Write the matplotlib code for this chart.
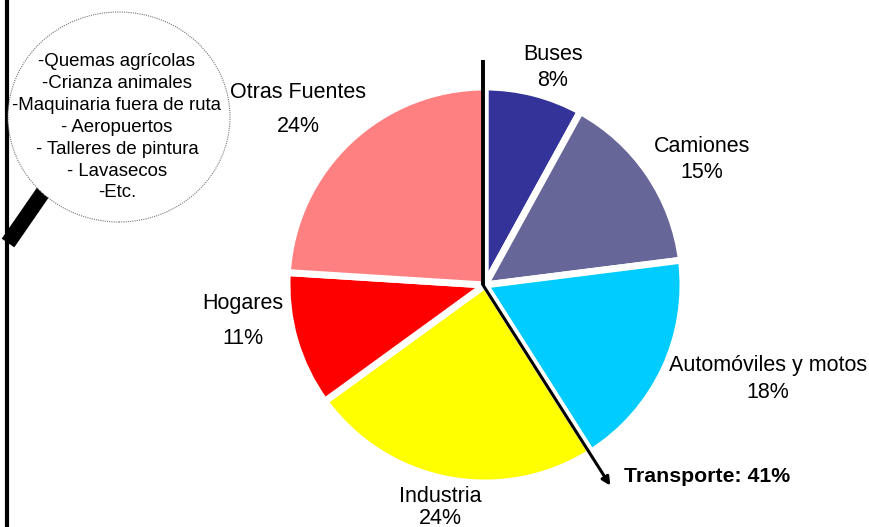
import numpy as np
import matplotlib.pyplot as plt
from matplotlib.patches import Ellipse

plt.rcParams['font.family'] = ['Liberation Sans', 'DejaVu Sans']

# data
categories = ['Buses', 'Camiones', 'Automóviles y motos', 'Industria', 'Hogares', 'Otras Fuentes']
shares = [8, 15, 18, 24, 11, 24]
colors = ['#333399', '#666699', '#00CCFF', '#FFFF00', '#FF0000', '#FF8080']
transport_label = 'Transporte: 41%'
otras_items = ['-Quemas agrícolas', '-Crianza animales', '-Maquinaria fuera de ruta',
               '- Aeropuertos', '- Talleres de pintura', '- Lavasecos', '-Etc.']

W, H = 870, 527
fig = plt.figure(figsize=(8.7, 5.27), dpi=100)
ax = fig.add_axes([0, 0, 1, 1])

def py(y):  # pixel row -> data y
    return H - y

cx, cy, r = 485, py(285), 198
ax.pie(shares, colors=colors, startangle=90, counterclock=False,
       center=(cx, cy), radius=r, frame=True,
       wedgeprops=dict(edgecolor='white', linewidth=5))
ax.set_xlim(0, W)
ax.set_ylim(0, H)
ax.axis('off')

# labels (pixel positions of the two lines)
label_pos = [(553, 55, 80), (702, 147, 172), (768, 366, 393),
             (440, 497, 518), (243, 304, 338), (298, 93, 127)]
for cat, s, (x, y1, y2) in zip(categories, shares, label_pos):
    ax.text(x, py(y1), cat, ha='center', va='center', fontsize=15.5)
    ax.text(x, py(y2), f'{s}%', ha='center', va='center', fontsize=15.5)

# transport bracket: vertical line at 12 o'clock and arrow along the end of the transport wedge
transport = sum(shares[:3])
ang = np.deg2rad(90 - 360 * transport / 100)
ax.plot([cx - 2, cx - 2], [cy, py(60)], color='black', lw=2.8, solid_capstyle='butt')
ex, ey = cx + 1.2 * r * np.cos(ang) - 2, cy + 1.2 * r * np.sin(ang)
ax.annotate('', xy=(ex, ey), xytext=(cx - 2, cy),
            arrowprops=dict(arrowstyle='-|>', color='black', lw=2.2,
                            mutation_scale=12, shrinkA=0, shrinkB=0))
ax.text(624, py(477), transport_label, ha='left', va='center', fontsize=15.3, fontweight='bold')

# magnifier with the "otras fuentes" items
ax.plot([46, 8], [py(188), py(243)], color='black', lw=11, solid_capstyle='butt')
ax.add_patch(Ellipse((119, py(117)), 222, 210, facecolor='white', edgecolor='#777777',
                     linestyle=(0, (1, 1)), lw=0.8, zorder=3))
for i, item in enumerate(otras_items):
    ax.text(117, py(62 + i * 21.8), item, ha='center', va='center', fontsize=13.4, zorder=4)

# left border
ax.plot([7, 7], [0, H], color='black', lw=3)

fig.savefig('out.png', dpi=100)
